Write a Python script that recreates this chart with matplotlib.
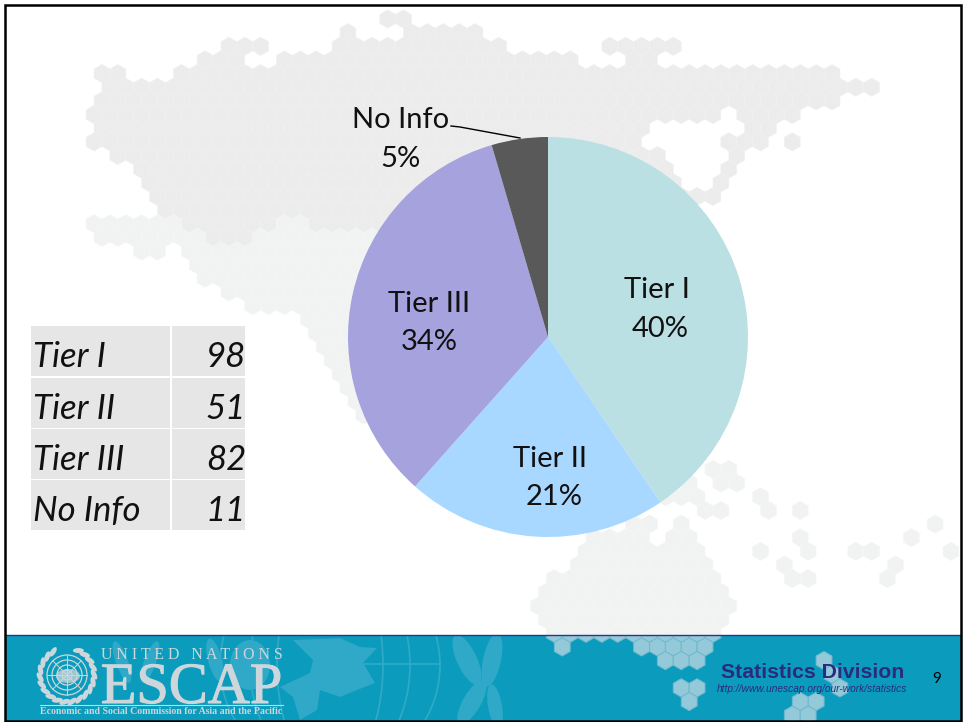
import numpy as np
import matplotlib
matplotlib.use("Agg")
import matplotlib.pyplot as plt
import matplotlib.patheffects as pe
from matplotlib.collections import PolyCollection
from matplotlib.patches import Rectangle, Circle, Ellipse, Polygon

# pie / table data
tiers = ["Tier I", "Tier II", "Tier III", "No Info"]
counts = [98, 51, 82, 11]
pie_colors = ["#bbe0e3", "#a8d8ff", "#a5a2de", "#595959"]
percent_labels = ["40%", "21%", "34%", "5%"]

# background hex map: row -> spans of hex columns
grey_rows = {
    0: [(18, 19)], 1: [(16, 16), (20, 24)], 2: [(8, 10), (15, 25), (32, 36)],
    3: [(7, 9), (12, 30), (34, 35)], 4: [(0, 1), (5, 46)], 5: [(1, 49)],
    6: [(0, 46)], 7: [(0, 39), (41, 44)], 8: [(0, 34), (41, 42)],
    9: [(0, 34), (40, 42), (44, 44)], 10: [(1, 35), (40, 40)],
    11: [(3, 36), (40, 40)], 12: [(3, 36), (39, 39)], 13: [(4, 39)],
    14: [(4, 36)], 15: [(6, 11), (14, 34)], 16: [(7, 9)],
}
pale_rows = {
    15: [(0, 5), (12, 13)], 16: [(0, 6), (10, 34)], 17: [(3, 4), (6, 34)],
    18: [(6, 34)], 19: [(7, 34)], 20: [(8, 34)], 21: [(10, 34)],
    22: [(13, 34)], 23: [(14, 34)], 24: [(14, 34)], 25: [(15, 34)],
    26: [(15, 34)], 27: [(16, 34)], 28: [(16, 34)], 29: [(17, 20)],
    33: [(39, 40)], 34: [(37, 37), (39, 40)], 35: [(36, 38), (42, 42)],
    36: [(38, 39), (42, 42), (44, 44)], 37: [(34, 35), (37, 37), (53, 53)],
    38: [(31, 34), (36, 37), (44, 44), (51, 51)],
    39: [(31, 38), (42, 42), (45, 45), (48, 49), (54, 54)],
    40: [(30, 38), (43, 43), (50, 50)],
    41: [(29, 39), (44, 45), (50, 50)], 42: [(28, 39)], 43: [(28, 40)],
    44: [(28, 39)], 45: [(29, 39)],
}
footer_rows = {
    45: [(29, 39)], 46: [(29, 29), (34, 38)], 47: [(36, 38), (46, 46)],
    48: [(46, 46)], 49: [(37, 38), (47, 47)], 50: [(37, 37), (44, 45)],
    51: [(44, 45)],
}


def hex_verts(rows):
    polys = []
    for r, spans in rows.items():
        for a, b in spans:
            for k in range(a, b + 1):
                cx = (94 if r % 2 else 102) + 15.87 * k
                cy = 19 + 13.65 * r
                ang = np.radians(np.arange(6) * 60 + 30)
                polys.append(np.c_[cx + 9.16 * np.cos(ang), cy + 9.16 * np.sin(ang)])
    return polys


fig = plt.figure(figsize=(9.63, 7.22), dpi=100)
ax = fig.add_axes([0, 0, 1, 1])

ax.add_collection(PolyCollection(hex_verts(grey_rows), facecolors="#ececec",
                                 edgecolors="#f1f1f1", linewidths=0.4, zorder=1))
ax.add_collection(PolyCollection(hex_verts(pale_rows), facecolors="#f1f3f3",
                                 edgecolors="#f5f6f6", linewidths=0.4, zorder=1))

# pie, y axis is inverted so this runs clockwise from the top
ax.pie(counts, colors=pie_colors, startangle=-90, counterclock=True,
       center=(548, 337), radius=200, wedgeprops=dict(linewidth=0, zorder=3))
ax.set_xlim(0, 963)
ax.set_ylim(722, 0)
ax.set_aspect("auto")
ax.axis("off")

label_font = dict(family="Lato", fontsize=21, ha="center", va="center",
                  color="#111111", zorder=5)
name_xy = [(657, 290), (550, 459), (429, 304), (401, 120)]
pct_xy = [(660, 329), (554, 497), (429, 342), (400, 159)]
for name, pct, p, q in zip(tiers, percent_labels, name_xy, pct_xy):
    ax.text(*p, name, **label_font)
    ax.text(*q, pct, **label_font)
ax.plot([451, 460, 520], [126, 127, 138], color="black", lw=1, zorder=4)

# table on the left
row_tops = [326, 378, 429, 480]
for name, n, top in zip(tiers, counts, row_tops):
    ax.add_patch(Rectangle((31, top), 139, 49.5, fc="#e6e6e6", ec="none", zorder=3))
    ax.add_patch(Rectangle((172, top), 73, 49.5, fc="#e6e6e6", ec="none", zorder=3))
    ax.text(33, top + 31, name, family="Lato", style="italic", fontsize=25,
            va="center", ha="left", color="#111111", zorder=5)
    ax.text(246, top + 31, str(n), family="Lato", style="italic", fontsize=25,
            va="center", ha="right", color="#111111", zorder=5)

# footer band
footer = Rectangle((6, 635), 955, 86, fc="#0a9bbd", ec="none", zorder=6)
ax.add_patch(footer)
ax.plot([6, 961], [635, 635], color="#2e3192", lw=1, zorder=9)

# faint globe and olive leaves behind the footer
faint = "#2fa9c7"
shapes = []
for w in [106, 160, 220]:
    shapes.append(Ellipse((330, 665), w, 220, fc="none", ec=faint, lw=1.3, zorder=6.5))
shapes.append(Polygon([(293, 640), (340, 638), (360, 647), (377, 648), (363, 663), (375, 683),
                       (357, 690), (340, 697), (320, 690), (317, 710), (300, 720), (293, 697),
                       (280, 687), (310, 673), (313, 660)], fc=faint, ec="none", zorder=6.5))
for cx, cy, w, h, a in [(467, 660, 20, 54, -25), (492, 660, 18, 54, 12),
                        (472, 702, 18, 50, 30), (495, 706, 14, 44, -10),
                        (122, 662, 12, 44, -20), (150, 662, 12, 44, 20),
                        (215, 660, 14, 44, -15), (250, 665, 40, 50, 0)]:
    shapes.append(Ellipse((cx, cy), w, h, angle=a, fc=faint, ec="none", zorder=6.5))
for s in shapes:
    ax.add_patch(s)
    s.set_clip_path(footer)
ax.plot([330, 440], [664, 664], color=faint, lw=1.3, zorder=6.5)

hexes = PolyCollection(hex_verts(footer_rows), facecolors="#93c9d8",
                       edgecolors="#6fb9cf", linewidths=0.7, zorder=7)
ax.add_collection(hexes)
hexes.set_clip_path(footer)

# UN emblem
logo = "#cdd6da"
gx, gy = 67, 675
for rad in [5, 10, 15, 20]:
    ax.add_patch(Circle((gx, gy), rad, fc="none", ec=logo, lw=0.9, zorder=8))
for a in np.radians(np.arange(0, 180, 45)):
    ax.plot([gx - 20 * np.cos(a), gx + 20 * np.cos(a)],
            [gy - 20 * np.sin(a), gy + 20 * np.sin(a)], color=logo, lw=0.7, zorder=8)
ax.add_patch(Ellipse((gx + 1, gy + 1), 24, 14, fc=logo, ec="none", alpha=0.75, zorder=8))
for a in np.radians(np.arange(-65, 250, 16)):
    if 85 < np.degrees(a) % 360 < 95:
        continue
    ax.add_patch(Ellipse((gx + 27 * np.cos(a), gy + 27 * np.sin(a)), 11, 5,
                         angle=np.degrees(a) + 65, fc=logo, ec="none", zorder=8))

ax.text(192, 655, "U N I T E D   N A T I O N S", family="Liberation Serif", fontsize=11.4,
        color=logo, ha="center", va="center", zorder=8)
ax.text(191.5, 703, "ESCAP", family="Liberation Serif", fontsize=42, color=logo,
        ha="center", va="baseline", zorder=8,
        path_effects=[pe.withStroke(linewidth=0.8, foreground=logo)])
ax.plot([40, 283], [705, 705], color=logo, lw=0.8, zorder=8)
ax.text(161.5, 712, "Economic and Social Commission for Asia and the Pacific",
        family="Liberation Serif", weight="bold", fontsize=7.1, color=logo,
        ha="center", va="center", zorder=8)

ax.text(813, 672, "Statistics Division", family="Liberation Sans", weight="bold",
        fontsize=15.3, color="#2b2a80", ha="center", va="center", zorder=8)
ax.text(812.5, 689, "http://www.unescap.org/our-work/statistics", family="Liberation Sans",
        style="italic", fontsize=7.25, color="#2b2a80", ha="center", va="center", zorder=8)
ax.text(937, 679, "9", family="Lato", fontsize=11, color="black", ha="center",
        va="center", zorder=8)

# slide frame
ax.add_patch(Rectangle((5, 4.5), 956, 716.5, fc="none", ec="black", lw=1.8, zorder=10))

fig.savefig("out.png", dpi=100, facecolor="white")
